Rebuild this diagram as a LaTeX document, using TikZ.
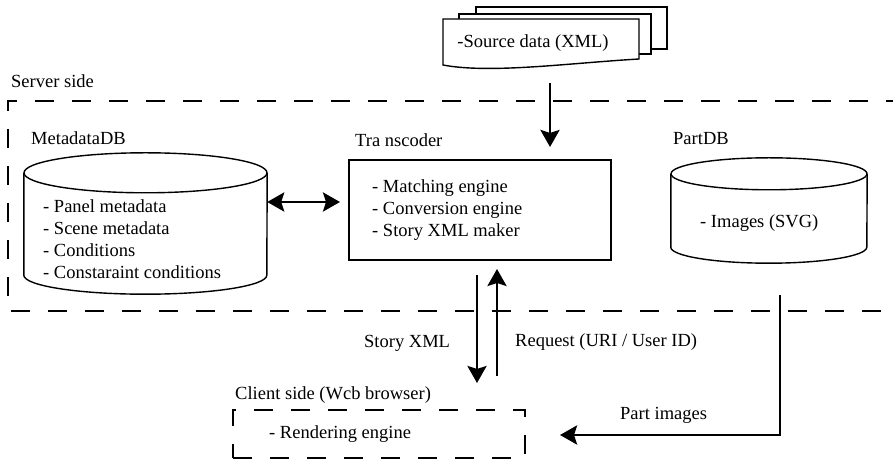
\documentclass[tikz,border=0pt]{standalone}
\usepackage{fontspec}
\setmainfont{Liberation Serif}
\usetikzlibrary{arrows.meta,calc}

\begin{document}
\begin{tikzpicture}[x=1pt,y=1pt,
  txt/.style={font=\fontsize{18.5}{22}\selectfont, inner sep=0pt},
  frame/.style={draw=black, line width=1.4pt},
  dashframe/.style={draw=black, line width=1.2pt, dash pattern=on 19pt off 18pt},
  bigtip/.tip={Stealth[length=17pt,width=19pt,inset=3pt]},
  flow/.style={line width=2.9pt, -bigtip},
  twoway/.style={line width=2.9pt, bigtip-bigtip},
  body/.style={draw=none, inner sep=0pt},
]
\useasboundingbox (0,0) rectangle (893,460);

% stack of source documents
\path[fill=white, frame] (476,411) rectangle (667,453);
\path[fill=white, frame] (459,406) rectangle (651,446);
\path[fill=white, frame] (443,395) -- (443,441) -- (639,441) -- (639,401)
  .. controls (570,397) and (490,386) .. (443,395) -- cycle;
\node[txt, anchor=base] (src) at (533,412) {-Source data (XML)};

% server side frame (open to the right)
\draw[dashframe] (905,359) -- (8,359) -- (8,149) -- (905,149);
\node[txt, anchor=base west] (server) at (11,372) {Server side};

% MetadataDB cylinder
\node[body, minimum width=243, minimum height=102] (meta) at (145.5,236) {};
\draw[frame] (meta.north west) -- (meta.south west)
  arc[start angle=180, end angle=360, x radius=121.5, y radius=19] -- (meta.north east);
\draw[frame] (meta.north) ellipse [x radius=121.5, y radius=20];
\node[txt, anchor=base west] (metalabel) at (31,315) {MetadataDB};
\node[txt, anchor=west, align=left] (metatext) at (43,221.3)
  {- Panel metadata\\- Scene metadata\\- Conditions\\- Constaraint conditions};

% Transcoder
\node[frame, minimum width=262, minimum height=100, inner sep=0pt] (trans) at (480,250) {};
\node[txt, anchor=base west] (translabel) at (355,313) {Tra nscoder};
\node[txt, anchor=west, align=left] (transtext) at (372,249.8)
  {- Matching engine\\- Conversion engine\\- Story XML maker};

% PartDB cylinder
\node[body, minimum width=196, minimum height=73] (part) at (769,249.5) {};
\draw[frame] (part.north west) -- (part.south west)
  arc[start angle=180, end angle=360, x radius=98, y radius=16] -- (part.north east);
\draw[frame] (part.north) ellipse [x radius=98, y radius=16];
\node[txt, anchor=base west] (partlabel) at (673,315) {PartDB};
\node[txt, anchor=base west] (parttext) at (700,232) {- Images (SVG)};

% Client side
\node[dashframe, minimum width=292, minimum height=48, inner sep=0pt] (client) at (379,26) {};
\node[txt, anchor=base west] (clientlabel) at (235,60) {Client side (Wcb browser)};
\node[txt, anchor=base west] (clienttext) at (269,22) {- Rendering engine};

% connector end points
\coordinate (dbl) at (340,258);
\coordinate (srcout) at (550,377);
\coordinate (srcin) at (550,313);
\coordinate (storyout) at (477,185);
\coordinate (storyin) at (477,77);
\coordinate (reqout) at (497,84);
\coordinate (reqin) at (497,191);
\coordinate (partout) at (780,165);
\coordinate (partturn) at (780,25);
\coordinate (partin) at (560,25);

% connectors
\draw[twoway] (meta.east |- dbl) -- (dbl);
\draw[flow] (srcout) -- (srcin);
\draw[flow] (storyout) -- (storyin);
\draw[flow] (reqout) -- (reqin);
\draw[flow] (partout) -- (partturn) -- (partin);

% connector labels
\node[txt, anchor=base west] (storylabel) at (364,112) {Story XML};
\node[txt, anchor=base west] (reqlabel) at (515,113) {Request (URI / User ID)};
\node[txt, anchor=base west] (partimg) at (620,40) {Part images};
\end{tikzpicture}
\end{document}
